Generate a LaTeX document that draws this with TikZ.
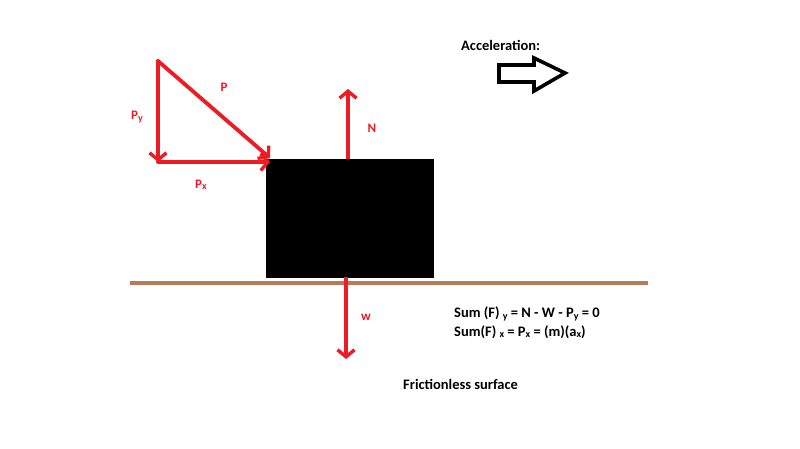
\documentclass[tikz,border=0pt]{standalone}
\usepackage{fontspec}
\setmainfont{Carlito}
\usetikzlibrary{arrows.meta}
\definecolor{pred}{HTML}{ED1C24}
\definecolor{pbrown}{HTML}{B97A57}
\newcommand{\lowsub}[1]{\raisebox{-0.2ex}{\fontsize{10}{11}\selectfont #1}}
\tikzset{
  force/.style={draw=pred, line width=3.8pt, -{Straight Barb[length=7pt,width=17pt,line width=3.4pt]}},
  flabel/.style={text=pred, font=\bfseries\fontsize{13}{15}\selectfont, inner sep=0pt},
  btext/.style={text=black, font=\bfseries\fontsize{14.5}{16}\selectfont, inner sep=0pt, anchor=west},
}
\begin{document}
\begin{tikzpicture}[x=1pt,y=-1pt]
\useasboundingbox (0,0) rectangle (800,449);
\fill[white] (0,0) rectangle (800,449);
% block
\node[fill=black, minimum width=168pt, minimum height=119pt, inner sep=0pt, anchor=north west] (block) at (266,159) {};
% ground
\coordinate (gl) at (130,283);
\coordinate (gr) at (648,283);
\draw[pbrown, line width=4pt] (gl) -- (gr);
% triangle
\coordinate (top) at (158,61);
\coordinate (corner) at (158,162);
\coordinate (pxend) at (270,162);
\coordinate (pend) at (270,158);
\draw[force, line cap=round] (top) -- (corner);
\draw[force, line cap=round] (corner) -- (pxend);
\draw[force, line cap=round] (top) -- (pend);
\node[flabel] (lp) at (224,87) {P};
\node[flabel] (lpy) at (137,117) {P\lowsub{y}};
\node[flabel] (lpx) at (201,185) {P\lowsub{x}};
% N
\coordinate (nstart) at (348,159);
\coordinate (nend) at (348,89);
\draw[force] (nstart) -- (nend);
\node[flabel] (ln) at (372,128) {N};
% w
\coordinate (wstart) at (346,277);
\coordinate (wend) at (346,359);
\draw[force] (wstart) -- (wend);
\node[flabel] (lw) at (366,317) {w};
% acceleration
\node[btext] (acc) at (461,45) {Acceleration:};
\draw[black, line width=3.6pt, line join=miter] (499,65) -- (534,65) -- (534,58) -- (565,73) -- (534,91) -- (534,82) -- (499,82) -- cycle;
% equations
\node[btext] (eq1) at (454,314) {Sum (F) \lowsub{y} = N - W - P\lowsub{y} = 0};
\node[btext] (eq2) at (454,332) {Sum(F) \lowsub{x} = P\lowsub{x} = (m)(a\lowsub{x})};
\node[btext] (fs) at (403,384) {Frictionless surface};
\end{tikzpicture}
\end{document}
